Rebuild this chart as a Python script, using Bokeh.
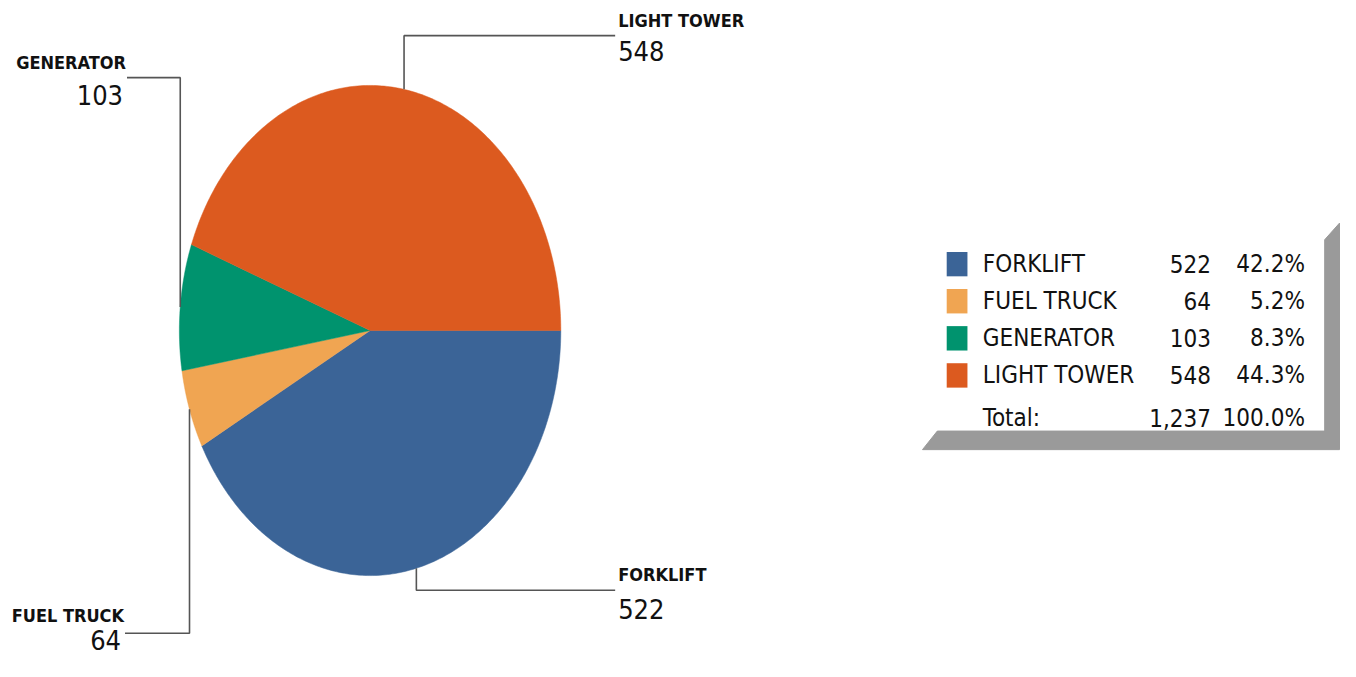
import numpy as np
from bokeh.plotting import figure
from bokeh.models import Range1d
from bokeh.core.properties import value
from bokeh.embed import file_html
from bokeh.resources import INLINE

categories = ["FORKLIFT", "FUEL TRUCK", "GENERATOR", "LIGHT TOWER"]
counts = [522, 64, 103, 548]
colors = ["#3b6497", "#f0a552", "#00936e", "#dc5a1f"]

W, H = 1340, 661
p = figure(width=W, height=H, output_backend="svg", toolbar_location=None,
           x_range=Range1d(0, 1356), y_range=Range1d(677, 0),
           min_border=0, outline_line_color=None, background_fill_color="white")
p.axis.visible = False
p.grid.visible = False

NARROW = "DejaVu Sans Condensed"

# ---- pie (ellipse) ----
cx, cy, rx, ry = 374, 338, 193, 251
total = sum(counts)
fracs = np.array(counts) / total
ends = np.cumsum(fracs) * 2 * np.pi
starts = ends - fracs * 2 * np.pi
xs, ys = [], []
for s, e in zip(starts, ends):
    t = np.linspace(s, e, 200)
    xs.append([cx] + list(cx + rx * np.cos(t)) + [cx])
    ys.append([cy] + list(cy + ry * np.sin(t)) + [cy])
p.patches(xs, ys, fill_color=colors, line_color=colors, line_width=0.5)

# ---- leader lines & labels ----
mids = (starts + ends) / 2
edge_x = cx + rx * np.cos(mids)
edge_y = cy + ry * np.sin(mids)
elbow_y = [604, 648, 79, 36]
end_x = [622, 126, 128, 622]
for i in range(4):
    p.line([edge_x[i], edge_x[i], end_x[i]], [edge_y[i], elbow_y[i], elbow_y[i]],
           line_color="#555555", line_width=1.6)

label_pos = [(625, 588, 623, "left"), (125, 630, 655, "right"),
             (127, 64, 97, "right"), (625, 20, 52, "left")]
for i, (lx, ly, vy, al) in enumerate(label_pos):
    p.text([lx], [ly], text=[categories[i]], text_font=value(NARROW),
           text_font_style="bold", text_font_size="18px", text_align=al,
           text_baseline="middle", text_color="#111111")
    vx = lx if al == "left" else lx - 3
    p.text([vx], [vy], text=[str(counts[i])], text_font=value(NARROW),
           text_font_size="27px", text_align=al, text_baseline="middle",
           text_color="#111111")

# ---- legend box with shadow ----
p.patch([948, 1340, 1340, 1355, 1355, 933], [441, 441, 245, 228, 460, 460],
        fill_color="#9a9a9a", line_color="#9a9a9a")
rows_y = [270, 308, 346, 384]
p.rect([968] * 4, rows_y, width=21, height=25, fill_color=colors, line_color=None)
pcts = ["%.1f%%" % (100 * f) for f in fracs]
FS = "24px"
p.text([994] * 4, rows_y, text=categories, text_font=value(NARROW),
       text_font_size=FS, text_baseline="middle", text_color="#111111")
p.text([1225] * 4, rows_y, text=[str(c) for c in counts], text_font=value(NARROW),
       text_font_size=FS, text_baseline="middle", text_align="right", text_color="#111111")
p.text([1320] * 4, rows_y, text=pcts, text_font=value(NARROW),
       text_font_size=FS, text_baseline="middle", text_align="right", text_color="#111111")
p.text([994], [428], text=["Total:"], text_font=value(NARROW),
       text_font_size=FS, text_baseline="middle", text_color="#111111")
p.text([1225], [428], text=["{:,}".format(total)], text_font=value(NARROW),
       text_font_size=FS, text_baseline="middle", text_align="right", text_color="#111111")
p.text([1320], [428], text=["100.0%"], text_font=value(NARROW),
       text_font_size=FS, text_baseline="middle", text_align="right", text_color="#111111")

open("out.html", "w").write(file_html(p, INLINE))
